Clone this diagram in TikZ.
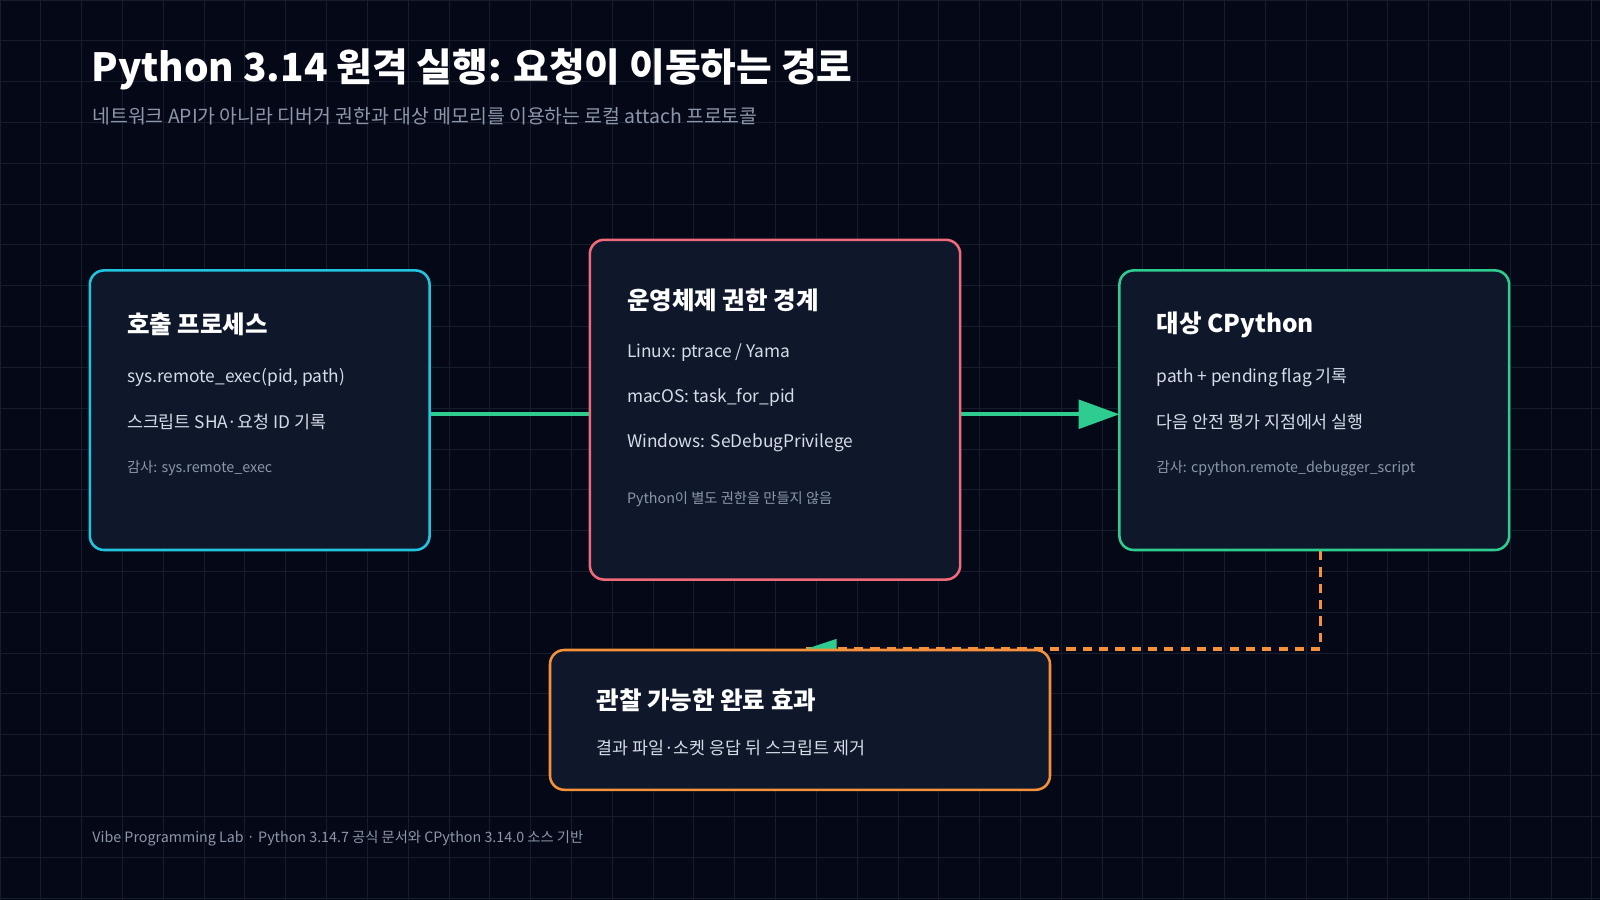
\documentclass[tikz,border=0pt]{standalone}
\usepackage{fontspec}
\setmainfont{Noto Sans CJK KR}
\usetikzlibrary{arrows.meta}
\definecolor{bgc}{HTML}{050816}
\definecolor{gridc}{HTML}{161E2E}
\definecolor{boxc}{HTML}{0F172A}
\definecolor{cyanc}{HTML}{22C5E0}
\definecolor{pinkc}{HTML}{F06A7A}
\definecolor{greenc}{HTML}{2ECC8F}
\definecolor{orangec}{HTML}{F5913A}
\definecolor{subc}{HTML}{8C97AB}
\definecolor{textc}{HTML}{D6DCE6}
\tikzset{
  card/.style={draw=#1, line width=2.5pt, fill=boxc, rounded corners=14pt},
  head/.style={anchor=west, text=white, font=\fontsize{24}{28}\selectfont\bfseries},
  body/.style={anchor=west, text=textc, font=\fontsize{17}{20}\selectfont},
  note/.style={anchor=west, text=subc, font=\fontsize{14}{17}\selectfont},
}
\begin{document}
\begin{tikzpicture}[x=1pt,y=-1pt]
        \useasboundingbox (0,0) rectangle (1568,882);
        \fill[bgc] (0,0) rectangle (1568,882);
        \foreach \x in {0,40,...,1560} \draw[gridc, line width=0.8pt] (\x,0) -- (\x,882);
        \foreach \y in {0,40,...,880} \draw[gridc, line width=0.8pt] (0,\y) -- (1568,\y);

        % Titel
        \node[anchor=west, text=white, font=\fontsize{38}{44}\selectfont\bfseries] (title) at (86,68) {Python 3.14 원격 실행: 요청이 이동하는 경로};
        \node[anchor=west, text=subc, font=\fontsize{19}{22}\selectfont] (subtitle) at (87,114) {네트워크 API가 아니라 디버거 권한과 대상 메모리를 이용하는 로컬 attach 프로토콜};

        % Verbinder
        \coordinate (ca) at (421,406);
        \coordinate (cc) at (1097,406);
        \draw[greenc, line width=4pt, -{Triangle[length=40pt,width=28pt]}] (ca) -- (cc);
        \coordinate (cg) at (1294,540);
        \coordinate (cd) at (790,636);
        \draw[orangec, line width=3pt, dash pattern=on 9pt off 7pt] (cg) |- (cd);
        \fill[greenc] (790,636) -- (820,626) -- (820,636) -- cycle;

        % Kästen
        \draw[card=cyanc] (88,265) rectangle (421,539);
        \node[head] (ah) at (121,318) {호출 프로세스};
        \node[body] (a1) at (121,370) {sys.remote\_exec(pid, path)};
        \node[body] (a2) at (121,414) {스크립트 SHA·요청 ID 기록};
        \node[note] (a3) at (121,459) {감사: sys.remote\_exec};

        \draw[card=pinkc] (578,235) rectangle (941,568);
        \node[head] (bh) at (611,294) {운영체제 권한 경계};
        \node[body] (b1) at (611,346) {Linux: ptrace / Yama};
        \node[body] (b2) at (611,390) {macOS: task\_for\_pid};
        \node[body] (b3) at (611,434) {Windows: SeDebugPrivilege};
        \node[note] (b4) at (611,489) {Python이 별도 권한을 만들지 않음};

        \draw[card=greenc] (1097,265) rectangle (1479,539);
        \node[head] (ch) at (1130,318) {대상 CPython};
        \node[body] (c1) at (1130,370) {path + pending flag 기록};
        \node[body] (c2) at (1130,414) {다음 안전 평가 지점에서 실행};
        \node[note] (c3) at (1130,459) {감사: cpython.remote\_debugger\_script};

        \draw[card=orangec] (539,637) rectangle (1029,774);
        \node[head] (dh) at (581,686) {관찰 가능한 완료 효과};
        \node[body] (d1) at (581,733) {결과 파일·소켓 응답 뒤 스크립트 제거};

        % Fußzeile
        \node[note, text=subc] (foot) at (87,822) {Vibe Programming Lab · Python 3.14.7 공식 문서와 CPython 3.14.0 소스 기반};
\end{tikzpicture}
\end{document}
